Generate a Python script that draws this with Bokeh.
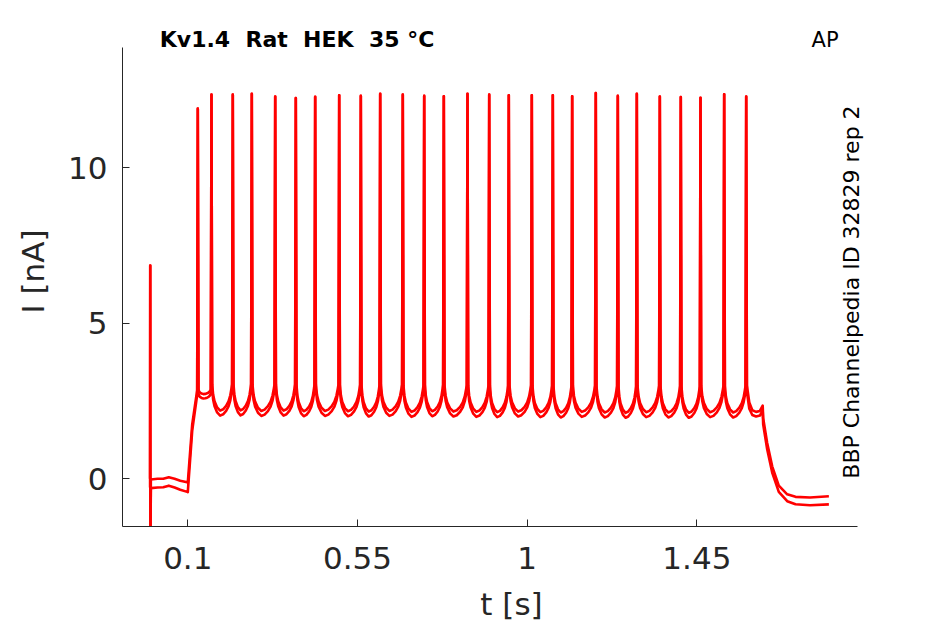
import numpy as np
from bokeh.plotting import figure
from bokeh.models import Range1d, FixedTicker, Label
from bokeh.embed import file_html
from bokeh.resources import INLINE

# ---- data ----
x_ticks = [0.1, 0.55, 1.0, 1.45]
x_tick_labels = ["0.1", "0.55", "1", "1.45"]
y_ticks = [0, 5, 10]
y_tick_labels = ["0", "5", "10"]

# AP spike times [s] and peak currents [nA]
spike_t = [0.1265, 0.1628, 0.2193, 0.2697, 0.3318, 0.3864, 0.4378, 0.5015,
           0.5588, 0.6102, 0.6701, 0.7269, 0.7789, 0.8417, 0.8993, 0.9512,
           1.0122, 1.0679, 1.1193, 1.1819, 1.2403, 1.2907, 1.3517, 1.4073,
           1.4596, 1.5224, 1.5808]
spike_peak = [11.89, 12.34, 12.34, 12.37, 12.28, 12.23, 12.27, 12.32,
              12.30, 12.37, 12.34, 12.30, 12.29, 12.37, 12.34, 12.32,
              12.32, 12.32, 12.29, 12.39, 12.30, 12.37, 12.28, 12.26,
              12.24, 12.35, 12.28]

# inter-spike minimum current and depth of the scallop, two sweeps
trough_a = [2.72, 2.19, 2.20, 2.18, 2.19, 2.17, 2.18, 2.17, 2.16, 2.18,
            2.15, 2.17, 2.16, 2.15, 2.14, 2.16, 2.14, 2.13, 2.15, 2.13,
            2.12, 2.14, 2.13, 2.12, 2.14, 2.13]
trough_b = [2.58, 2.03, 2.04, 2.02, 2.03, 2.01, 2.02, 2.01, 2.00, 2.02,
            1.99, 2.01, 2.00, 1.99, 1.98, 2.00, 1.98, 1.97, 1.99, 1.97,
            1.96, 1.98, 1.97, 1.96, 1.98, 1.97]
depth_a = [0.15] + [0.85] * 25
depth_b = [0.15] + [0.85] * 25

# shape of the current between two spikes (fraction of interval, fraction of depth)
shape_frac = [0.0, 0.05, 0.12, 0.25, 0.40, 0.55, 0.70, 0.82, 0.91, 0.97, 1.0]
shape_rel = [1.0, 0.60, 0.35, 0.12, 0.0, 0.05, 0.18, 0.35, 0.58, 0.85, 1.0]

# holding, artifact and step onset
pre_t = [0.0, 0.0004, 0.0009, 0.002, 0.02, 0.035, 0.0496, 0.065, 0.08, 0.0984, 0.1, 0.1117, 0.1249]
pre_a = [0.0, 6.85, -2.2, -0.02, 0.0, 0.0, 0.05, 0.0, -0.06, -0.11, -0.12, 1.75, 2.85]
pre_b = [-0.28, 6.85, -2.2, -0.3, -0.28, -0.27, -0.22, -0.28, -0.35, -0.42, -0.43, 1.55, 2.70]

# after last spike: step end and decay
post_t = [1.5826, 1.589, 1.597, 1.607, 1.617, 1.6245, 1.6258, 1.6364, 1.6497,
          1.6672, 1.6895, 1.7115, 1.75, 1.80]
post_a = [3.0, 2.45, 2.2, 2.15, 2.18, 2.35, 1.95, 1.15, 0.40, -0.22, -0.50,
          -0.58, -0.60, -0.56]
post_b = [2.8, 2.25, 2.05, 2.0, 2.03, 2.2, 1.75, 0.95, 0.20, -0.42, -0.72,
          -0.82, -0.85, -0.82]

# axis extents of the reference
x_axis_bounds = (-0.07316, 1.875)
y_axis_bounds = (-1.5323, 13.864)


def build(p_i, troughs, depths, q_i):
    t = list(pre_t)
    y = list(p_i)
    w = 0.0018
    n = len(spike_t)
    for k in range(n):
        t.append(spike_t[k])
        y.append(spike_peak[k])
        if k < n - 1:
            a = spike_t[k] + w
            b = spike_t[k + 1] - w
            for f, r in zip(shape_frac, shape_rel):
                t.append(a + f * (b - a))
                y.append(troughs[k] + r * depths[k])
    t += post_t
    y += q_i
    return t, y


ta, ya = build(pre_a, trough_a, depth_a, post_a)
tb, yb = build(pre_b, trough_b, depth_b, post_b)

FONT = "DejaVu Sans"
AX = "#262626"

# frame extended above and to the right so the texts are not clipped;
# the axis lines are limited to the reference extents with bounds
p = figure(width=945, height=624, output_backend="svg", toolbar_location=None,
           x_range=Range1d(-0.07316, 1.98995), y_range=Range1d(-1.5323, 14.851),
           min_border_left=122, min_border_right=45, min_border_top=16,
           min_border_bottom=98)
p.outline_line_color = None
p.grid.visible = False
p.background_fill_color = "white"
p.border_fill_color = "white"

p.line(tb, yb, line_color="#ff0000", line_width=2.6, line_join="round")
p.line(ta, ya, line_color="#ff0000", line_width=2.6, line_join="round")

for ax in (p.xaxis[0], p.yaxis[0]):
    ax.axis_line_color = AX
    ax.major_tick_line_color = AX
    ax.major_tick_in = 7
    ax.major_tick_out = 0
    ax.minor_tick_line_color = None
    ax.major_label_text_font = FONT
    ax.major_label_text_font_size = "31px"
    ax.major_label_text_color = AX
    ax.axis_label_text_font = FONT
    ax.axis_label_text_font_size = "31px"
    ax.axis_label_text_color = AX
    ax.axis_label_text_font_style = "normal"

p.xaxis.bounds = x_axis_bounds
p.yaxis.bounds = y_axis_bounds
p.xaxis.ticker = FixedTicker(ticks=x_ticks)
p.xaxis.major_label_overrides = {v: s for v, s in zip(x_ticks, x_tick_labels)}
p.yaxis.ticker = FixedTicker(ticks=y_ticks)
p.yaxis.major_label_overrides = {v: s for v, s in zip(y_ticks, y_tick_labels)}
p.xaxis.axis_label = "t [s]"
p.yaxis.axis_label = "I [nA]"
p.xaxis.major_label_standoff = 20
p.yaxis.major_label_standoff = 15
p.xaxis.axis_label_standoff = 14
p.yaxis.axis_label_standoff = 14

NB = "\u00a0"
title_text = "Kv1.4 " + NB + "Rat " + NB + "HEK " + NB + "35 °C"
p.add_layout(Label(x=0.02575, y=14.10, text=title_text,
                   text_font=FONT, text_font_size="22px", text_font_style="bold",
                   text_color="black", text_align="left", text_baseline="alphabetic"))
p.add_layout(Label(x=1.754, y=14.10, text="AP", text_font=FONT,
                   text_font_size="21px", text_color="black",
                   text_align="left", text_baseline="alphabetic"))
p.add_layout(Label(x=1.8587, y=6.0, text="BBP Channelpedia ID 32829 rep 2",
                   text_font=FONT, text_font_size="22px", text_color="black",
                   angle=np.pi / 2, text_align="center", text_baseline="alphabetic"))

open("out.html", "w").write(file_html(p, INLINE))
